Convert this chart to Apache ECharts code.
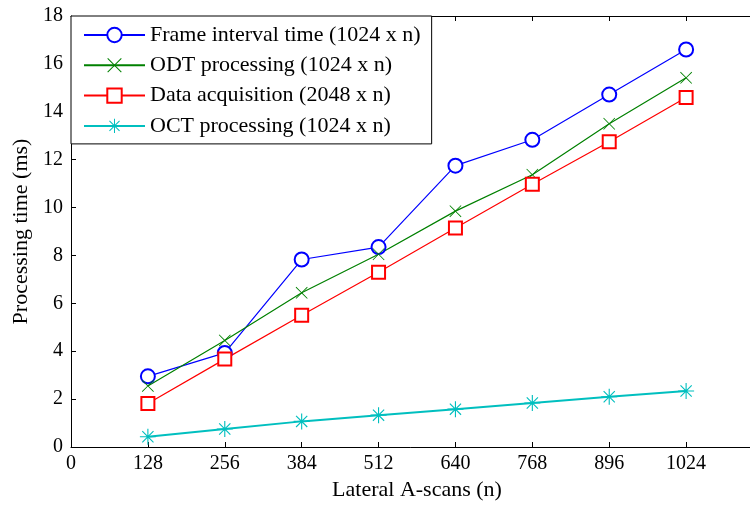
<!DOCTYPE html>
<html>
<head>
<meta charset="utf-8">
<title>Processing time vs lateral A-scans</title>
<script src="https://cdn.jsdelivr.net/npm/echarts@6/dist/echarts.min.js"></script>
<style>
  html, body { margin: 0; padding: 0; background: #fff; }
  #chart { width: 750px; height: 505px; }
</style>
</head>
<body>
<div id="chart"></div>
<script>
// data
var lateralScans = [128, 256, 384, 512, 640, 768, 896, 1024];
var frameInterval = [2.95, 3.93, 7.83, 8.35, 11.75, 12.83, 14.72, 16.6];
var odtProcessing = [2.55, 4.45, 6.44, 8.05, 9.85, 11.37, 13.5, 15.42];
var dataAcquisition = [1.82, 3.67, 5.5, 7.3, 9.15, 10.97, 12.75, 14.6];
var octProcessing = [0.43, 0.75, 1.07, 1.33, 1.58, 1.84, 2.1, 2.34];
var xTicks = [0, 128, 256, 384, 512, 640, 768, 896, 1024];

var FONT = 'Liberation Serif';

// matlab-like markers
var crossPath = 'path://M0,1L1,0L10,9L19,0L20,1L11,10L20,19L19,20L10,11L1,20L0,19L9,10Z';
var starPath = 'path://M9.3,0L10.7,0L10.7,20L9.3,20Z' +
  'M0,9.3L20,9.3L20,10.7L0,10.7Z' +
  'M2.5,3.5L3.5,2.5L17.5,16.5L16.5,17.5Z' +
  'M16.5,2.5L17.5,3.5L3.5,17.5L2.5,16.5Z' +
  'M8.3,8.3L11.7,8.3L11.7,11.7L8.3,11.7Z';

function pairs(vals) {
  return lateralScans.map(function (x, i) { return [x, vals[i]]; });
}

var chart = echarts.init(document.getElementById('chart'));

var axisCommon = {
  axisLine: { lineStyle: { color: '#000', width: 1 } },
  axisTick: { inside: true, length: 5, lineStyle: { color: '#000' } },
  splitLine: { show: false }
};

chart.setOption({
  animation: false,
  backgroundColor: '#fff',
  textStyle: { fontFamily: FONT, color: '#000' },
  // the original figure is cropped on the right, so the plot runs past the canvas
  grid: { left: 71, top: 16, width: 692, bottom: 58, outerBoundsMode: 'none' },
  legend: {
    orient: 'vertical',
    left: 71,
    top: 16,
    padding: [8, 11, 7, 12],
    itemWidth: 61,
    itemHeight: 18,
    itemGap: 8.3,
    backgroundColor: '#fff',
    borderColor: '#000',
    borderWidth: 1,
    borderRadius: 0,
    z: 10,
    textStyle: { fontFamily: FONT, fontSize: 22, color: '#000' },
    data: ['Frame interval time (1024 x n)', 'ODT processing (1024 x n)',
      'Data acquisition (2048 x n)', 'OCT processing (1024 x n)']
  },
  xAxis: [
    Object.assign({
      type: 'value',
      min: 0,
      max: 1152,
      interval: 128,
      name: 'Lateral A-scans (n)',
      nameLocation: 'middle',
      nameGap: 30,
      nameTextStyle: { fontFamily: FONT, fontSize: 22, color: '#000' },
      axisLabel: {
        fontFamily: FONT, fontSize: 20, color: '#000', margin: 7,
        formatter: function (v) { return xTicks.indexOf(v) >= 0 ? String(v) : ''; }
      }
    }, axisCommon),
    Object.assign({
      type: 'value',
      position: 'top',
      min: 0,
      max: 1152,
      interval: 128,
      axisLabel: { show: false }
    }, axisCommon)
  ],
  yAxis: Object.assign({
    type: 'value',
    min: 0,
    max: 18,
    interval: 2,
    name: 'Processing time (ms)',
    nameLocation: 'middle',
    nameGap: 30,
    nameTextStyle: { fontFamily: FONT, fontSize: 22, color: '#000' },
    axisLabel: { fontFamily: FONT, fontSize: 20, color: '#000', margin: 8 }
  }, axisCommon),
  series: [{
    name: 'Frame interval time (1024 x n)',
    type: 'line',
    data: pairs(frameInterval),
    symbol: 'emptyCircle',
    symbolSize: 14,
    color: '#0000ff',
    itemStyle: { color: '#0000ff', borderWidth: 1.5 },
    lineStyle: { color: '#0000ff', width: 1.2 }
  }, {
    name: 'ODT processing (1024 x n)',
    type: 'line',
    data: pairs(odtProcessing),
    symbol: crossPath,
    symbolSize: 12,
    color: '#008000',
    itemStyle: { color: '#008000' },
    lineStyle: { color: '#008000', width: 1.2 }
  }, {
    name: 'Data acquisition (2048 x n)',
    type: 'line',
    data: pairs(dataAcquisition),
    symbol: 'emptyRect',
    symbolSize: 13,
    color: '#ff0000',
    itemStyle: { color: '#ff0000', borderWidth: 1.5 },
    lineStyle: { color: '#ff0000', width: 1.2 }
  }, {
    name: 'OCT processing (1024 x n)',
    type: 'line',
    data: pairs(octProcessing),
    symbol: starPath,
    symbolSize: 16,
    color: '#00bfbf',
    itemStyle: { color: '#00bfbf' },
    lineStyle: { color: '#00bfbf', width: 2 }
  }]
});
</script>
</body>
</html>
